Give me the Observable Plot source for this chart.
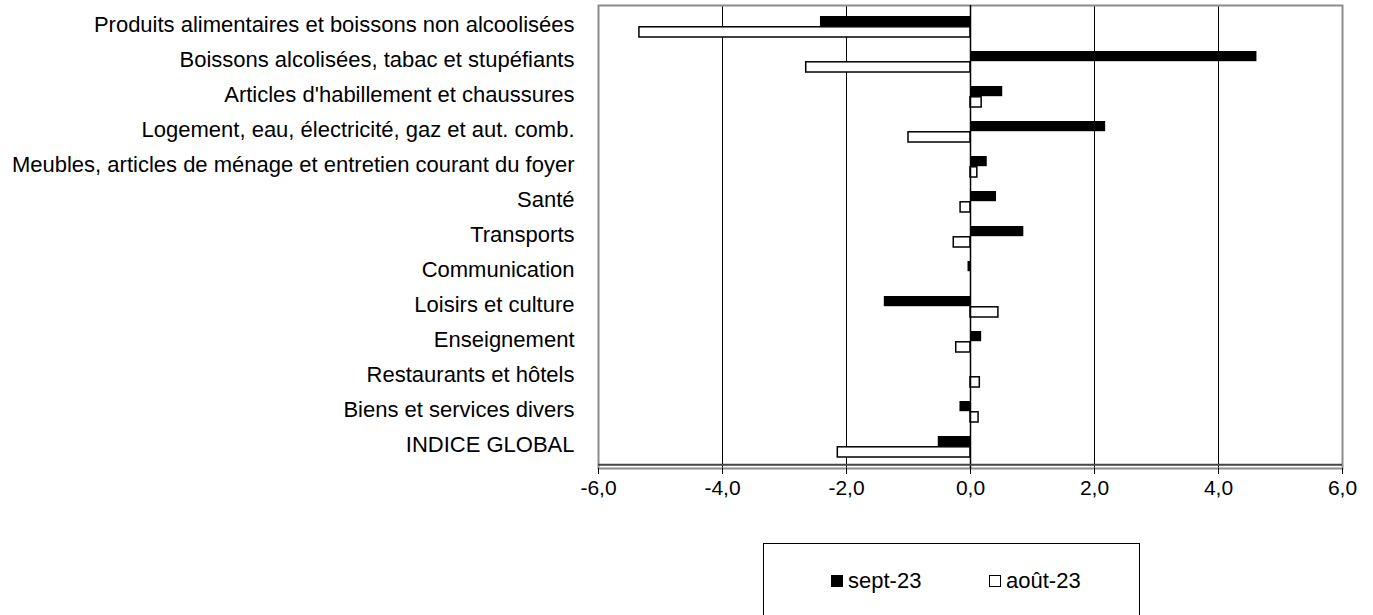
<!DOCTYPE html>
<html>
<head>
<meta charset="utf-8">
<script src="https://cdn.jsdelivr.net/npm/d3@7"></script>
<script src="https://cdn.jsdelivr.net/npm/@observablehq/plot@0.6"></script>
<style>
  html, body { margin: 0; padding: 0; background: #fff; }
  body { width: 1373px; height: 615px; overflow: hidden; font-family: "Liberation Sans", Arial, sans-serif; }
  #chart svg { display: block; }
  #legend {
    position: absolute; left: 763px; top: 543px; width: 377px; height: 90px;
    border: 1px solid #000; box-sizing: border-box; background: #fff;
    font-size: 22px; color: #000;
  }
  .item { position: absolute; top: 24px; display: flex; align-items: center; line-height: 26px; }
  .sw { width: 12px; height: 12px; box-sizing: border-box; border: 1.5px solid #000; margin-right: 5px; }
</style>
</head>
<body>
<div id="chart"></div>
<div id="legend"></div>
<script>
const categories = [
  "Produits alimentaires et boissons non alcoolisées",
  "Boissons alcolisées, tabac et stupéfiants",
  "Articles d'habillement et chaussures",
  "Logement, eau, électricité, gaz et aut. comb.",
  "Meubles, articles de ménage et entretien courant du foyer",
  "Santé",
  "Transports",
  "Communication",
  "Loisirs et culture",
  "Enseignement",
  "Restaurants et hôtels",
  "Biens et services divers",
  "INDICE GLOBAL"
];
const series = ["sept-23", "août-23"];
const sept23 = [-2.42, 4.62, 0.52, 2.18, 0.27, 0.42, 0.86, -0.04, -1.39, 0.18, 0.0, -0.17, -0.52];
const aout23 = [-5.34, -2.65, 0.18, -1.0, 0.11, -0.16, -0.27, 0.0, 0.45, -0.23, 0.15, 0.13, -2.14];
const xTicks = [-6, -4, -2, 0, 2, 4, 6];

const sept = categories.map((c, i) => ({category: c, value: sept23[i]}));
const aout = categories.map((c, i) => ({category: c, value: aout23[i]}));
const fmt = d => d.toFixed(1).replace(".", ",");

const chart = Plot.plot({
  width: 1373,
  height: 515,
  marginLeft: 598,
  marginRight: 31,
  marginTop: 5,
  marginBottom: 47,
  style: {fontFamily: "'Liberation Sans', Arial, sans-serif", fontSize: "22px", color: "#000", background: "#fff"},
  x: {domain: [-6, 6]},
  y: {domain: categories, padding: 0},
  marks: [
    Plot.gridX(xTicks, {stroke: "#000", strokeOpacity: 1, strokeWidth: 1}),
    Plot.frame({stroke: "#8c8c8c", strokeWidth: 2}),
    Plot.barX(sept, {x: "value", y: "category", fill: "#000", insetTop: 7, insetBottom: 17.8}),
    Plot.barX(aout, {x: "value", y: "category", fill: "#fff", stroke: "#000", strokeWidth: 1.5, insetTop: 17.8, insetBottom: 7}),
    Plot.ruleX([0], {stroke: "#000", strokeWidth: 1.5}),
    Plot.ruleY([categories[categories.length - 1]], {y: d => d, dy: 17.8, stroke: "#444", strokeWidth: 2}),
    Plot.axisX({ticks: xTicks, tickFormat: fmt, tickSize: 6, tickPadding: 6, stroke: "#000", fontSize: 21, label: null}),
    Plot.axisY({tickSize: 0, tickPadding: 24, fontSize: 22, label: null, dy: -2})
  ]
});
document.getElementById("chart").appendChild(chart);

const legend = document.getElementById("legend");
const items = [
  {label: series[0], fill: "#000", left: 67},
  {label: series[1], fill: "#fff", left: 225}
];
items.forEach(it => {
  const d = document.createElement("div");
  d.className = "item";
  d.style.left = it.left + "px";
  const s = document.createElement("span");
  s.className = "sw";
  s.style.background = it.fill;
  d.appendChild(s);
  d.appendChild(document.createTextNode(it.label));
  legend.appendChild(d);
});
</script>
</body>
</html>
